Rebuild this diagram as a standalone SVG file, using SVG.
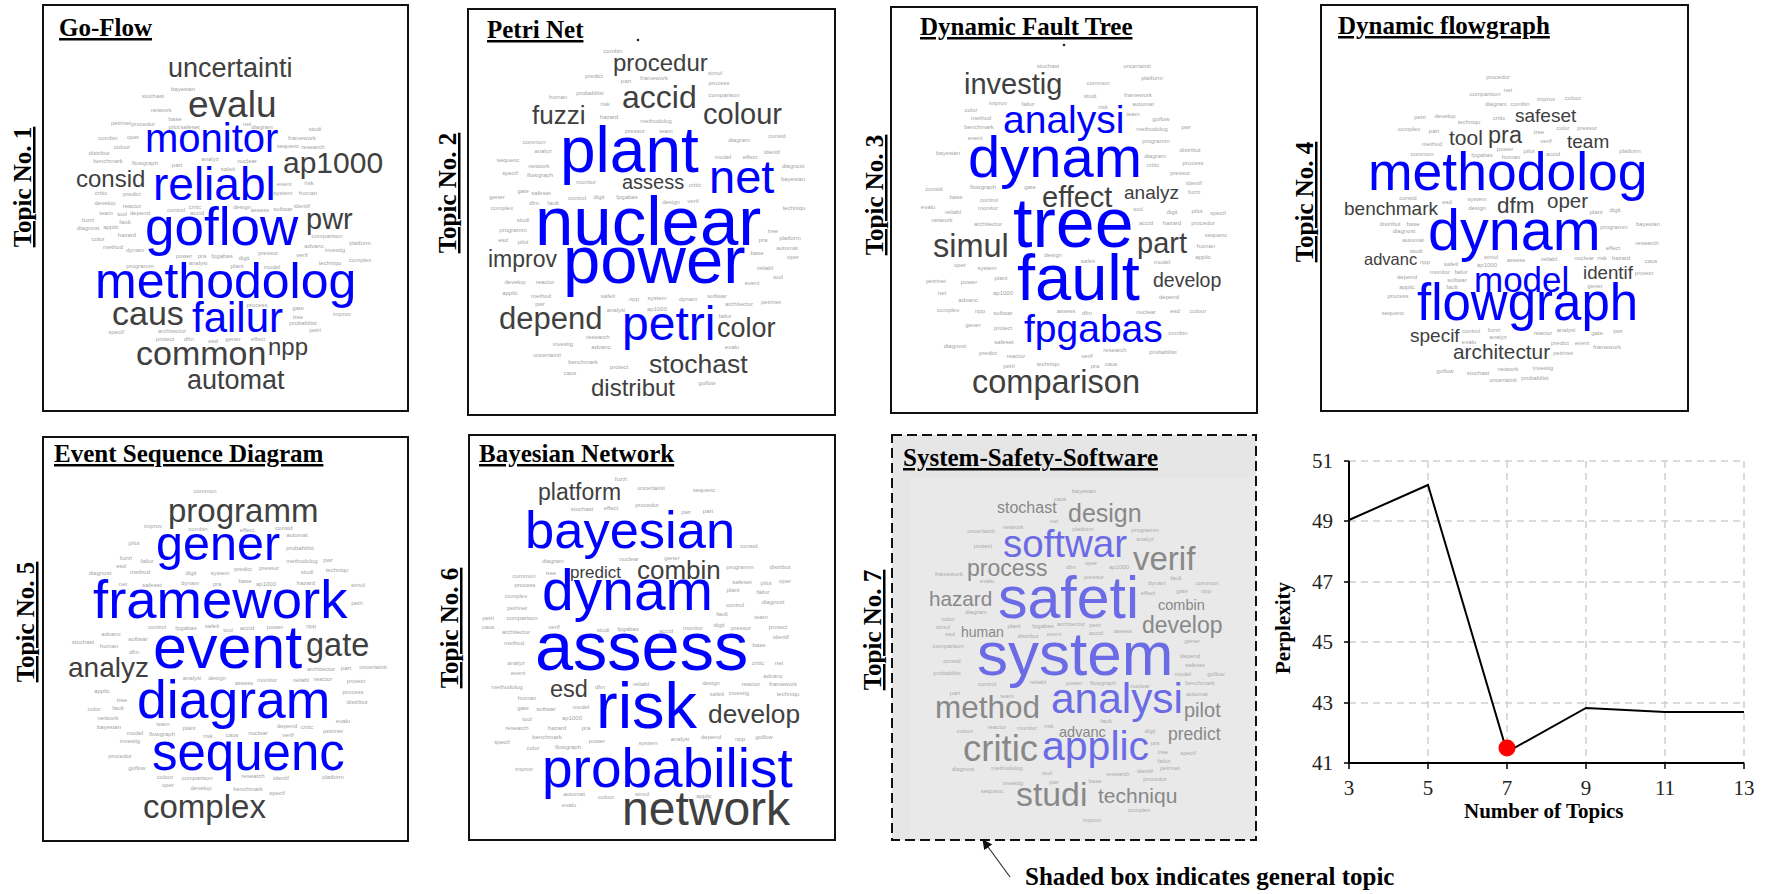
<svg xmlns="http://www.w3.org/2000/svg" width="1766" height="894" viewBox="0 0 1766 894">
<style>
.frame{fill:#fff;stroke:#111;stroke-width:2}
.ttl{font-family:"Liberation Serif","Times New Roman",serif;font-weight:bold;font-size:25px;fill:#000;text-decoration:underline}
.tl{font-family:"Liberation Serif","Times New Roman",serif;font-weight:bold;font-size:25px;fill:#000;text-decoration:underline;text-anchor:middle}
.w{font-family:"Liberation Sans",Arial,sans-serif}
.b{fill:#0000ff}
.g{fill:#404040}
.s{font-family:"Liberation Sans",Arial,sans-serif;font-size:6px;fill:#a3a3a3;text-anchor:middle}
.b7{fill:#6b6be6}
.g7{fill:#888}
.s7{font-family:"Liberation Sans",Arial,sans-serif;font-size:6px;fill:#ababab;text-anchor:middle}
.grid{stroke:#d0d0d0;stroke-width:1.5;stroke-dasharray:7 5;fill:none}
.ax{stroke:#000;stroke-width:2;fill:none}
.tick{font-family:"Liberation Serif","Times New Roman",serif;font-size:21px;fill:#222}
.axl{font-family:"Liberation Serif","Times New Roman",serif;font-weight:bold;font-size:21px;fill:#000}
</style>
<defs>
<marker id="ah" markerWidth="10" markerHeight="10" refX="9" refY="5" orient="auto" markerUnits="userSpaceOnUse">
<path d="M0,0 L10,5 L0,10 Z" fill="#111"/>
</marker>
</defs>
<rect width="1766" height="894" fill="#fff"/>

<!-- Topic 1 -->
<g id="topic1">
<rect class="frame" x="43" y="5" width="365" height="406"/>
<text class="ttl" x="59" y="36">Go-Flow</text>
<text class="tl" transform="translate(31,187) rotate(-90)">Topic No. 1</text>
<g class="w">
<text class="g" x="168" y="77" font-size="27">uncertainti</text>
<text class="g" x="188" y="117" font-size="37">evalu</text>
<text class="b" x="145" y="152" font-size="40">monitor</text>
<text class="g" x="283" y="173" font-size="30">ap1000</text>
<text class="g" x="76" y="187" font-size="24">consid</text>
<text class="b" x="153" y="200" font-size="46">reliabl</text>
<text class="g" x="306" y="229" font-size="29">pwr</text>
<text class="b" x="145" y="245" font-size="53">goflow</text>
<text class="b" x="95" y="298" font-size="50">methodolog</text>
<text class="g" x="112" y="325" font-size="34">caus</text>
<text class="b" x="192" y="332" font-size="42">failur</text>
<text class="g" x="136" y="365" font-size="34">common</text>
<text class="g" x="268" y="355" font-size="24">npp</text>
<text class="g" x="187" y="389" font-size="27">automat</text>
</g>
<g class="s">
<text x="183" y="91">bayesian</text><text x="153" y="98">stochast</text><text x="161" y="112">network</text><text x="175" y="121">base</text>
<text x="121" y="125">petrinet</text><text x="143" y="126">procedur</text><text x="174" y="129">pilot</text><text x="190" y="129">safeset</text>
<text x="247" y="126">net</text><text x="262" y="129">diagram</text><text x="315" y="131">studi</text><text x="108" y="140">combin</text>
<text x="133" y="139">oper</text><text x="302" y="140">framework</text><text x="288" y="148">sequenc</text><text x="313" y="149">research</text>
<text x="122" y="149">colour</text><text x="99" y="155">distribut</text><text x="108" y="163">benchmark</text><text x="145" y="165">flowgraph</text>
<text x="177" y="167">part</text><text x="210" y="161">analyz</text><text x="247" y="163">nuclear</text><text x="228" y="171">safeti</text>
<text x="284" y="186">event</text><text x="309" y="185">risk</text><text x="283" y="195">system</text><text x="308" y="195">human</text>
<text x="101" y="195">critic</text><text x="132" y="196">predict</text><text x="105" y="205">develop</text><text x="132" y="208">reactor</text>
<text x="140" y="215">depend</text><text x="176" y="212">control</text><text x="195" y="209">critic</text><text x="197" y="215">accid</text>
<text x="242" y="209">design</text><text x="260" y="212">assess</text><text x="283" y="211">softwar</text><text x="302" y="208">identif</text>
<text x="106" y="215">team</text><text x="122" y="216">tool</text><text x="88" y="222">fuzzi</text><text x="88" y="230">diagnost</text>
<text x="111" y="229">applic</text><text x="125" y="224">fault</text><text x="127" y="237">hazard</text><text x="98" y="241">color</text>
<text x="113" y="249">method</text><text x="135" y="252">dynam</text><text x="327" y="238">comparison</text><text x="360" y="245">platform</text>
<text x="314" y="248">advanc</text><text x="335" y="252">investig</text><text x="268" y="255">pressur</text><text x="302" y="257">verif</text>
<text x="330" y="265">techniqu</text><text x="360" y="262">complex</text><text x="140" y="268">programm</text><text x="184" y="258">power</text>
<text x="202" y="258">pra</text><text x="222" y="258">fpgabas</text><text x="244" y="260">digit</text><text x="198" y="265">analysi</text>
<text x="237" y="268">plant</text><text x="272" y="269">model</text><text x="257" y="307">process</text><text x="298" y="310">gate</text>
<text x="342" y="316">improv</text><text x="298" y="319">tree</text><text x="303" y="325">probabilist</text><text x="315" y="332">petri</text>
<text x="116" y="334">specif</text><text x="172" y="333">architectur</text><text x="165" y="341">protect</text><text x="189" y="341">dfm</text>
<text x="213" y="343">esd</text><text x="233" y="341">gener</text><text x="258" y="341">effect</text>
</g>
</g>

<!-- Topic 2 -->
<g id="topic2">
<rect class="frame" x="468" y="9" width="367" height="406"/>
<text class="ttl" x="487" y="38">Petri Net</text>
<circle cx="638" cy="40" r="1.3" fill="#222"/>
<text class="tl" transform="translate(456,193) rotate(-90)">Topic No. 2</text>
<g class="w">
<text class="g" x="613" y="71" font-size="24">procedur</text>
<text class="g" x="622" y="108" font-size="32">accid</text>
<text class="g" x="532" y="124" font-size="26">fuzzi</text>
<text class="g" x="703" y="124" font-size="29">colour</text>
<text class="b" x="560" y="172" font-size="64">plant</text>
<text class="b" x="709" y="193" font-size="47">net</text>
<text class="g" x="622" y="189" font-size="20">assess</text>
<text class="b" x="535" y="245" font-size="69">nuclear</text>
<text class="g" x="488" y="267" font-size="23">improv</text>
<text class="b" x="563" y="283" font-size="67">power</text>
<text class="g" x="499" y="329" font-size="31">depend</text>
<text class="b" x="622" y="340" font-size="48">petri</text>
<text class="g" x="717" y="337" font-size="27">color</text>
<text class="g" x="649" y="373" font-size="26.5">stochast</text>
<text class="g" x="591" y="396" font-size="24">distribut</text>
</g>
<g class="s">
<text x="613" y="53">combin</text><text x="594" y="78">predict</text><text x="626" y="83">part</text><text x="654" y="80">framework</text>
<text x="715" y="75">simul</text><text x="719" y="85">process</text><text x="558" y="99">human</text><text x="590" y="95">probabilist</text>
<text x="724" y="97">comparison</text><text x="605" y="106">risk</text><text x="609" y="119">hazard</text><text x="656" y="123">methodolog</text>
<text x="635" y="133">pressur</text><text x="666" y="133">team</text><text x="534" y="144">common</text><text x="543" y="153">analyz</text>
<text x="777" y="138">consid</text><text x="739" y="142">diagram</text><text x="508" y="162">sequenc</text><text x="539" y="168">network</text>
<text x="723" y="159">model</text><text x="750" y="159">effect</text><text x="772" y="154">identif</text><text x="793" y="168">diagnost</text>
<text x="510" y="175">specif</text><text x="540" y="177">flowgraph</text><text x="586" y="184">monitor</text><text x="695" y="187">critic</text>
<text x="793" y="181">bayesian</text><text x="497" y="199">gener</text><text x="523" y="193">gate</text><text x="541" y="195">safeset</text>
<text x="577" y="200">control</text><text x="599" y="199">digit</text><text x="627" y="199">fpgabas</text><text x="534" y="205">dfm</text>
<text x="553" y="205">fault</text><text x="671" y="204">design</text><text x="693" y="203">verif</text><text x="502" y="210">complex</text>
<text x="794" y="210">techniqu</text><text x="523" y="222">studi</text><text x="513" y="232">programm</text><text x="773" y="233">tree</text>
<text x="790" y="240">platform</text><text x="503" y="242">esd</text><text x="523" y="244">pilot</text><text x="763" y="242">pra</text>
<text x="787" y="250">automat</text><text x="757" y="255">base</text><text x="793" y="259">oper</text><text x="765" y="270">reliabl</text>
<text x="778" y="279">tool</text><text x="752" y="285">event</text><text x="515" y="284">develop</text><text x="545" y="284">reactor</text>
<text x="510" y="295">applic</text><text x="541" y="298">method</text><text x="608" y="298">safeti</text><text x="634" y="301">npp</text>
<text x="657" y="300">system</text><text x="688" y="301">dynam</text><text x="717" y="298">softwar</text><text x="739" y="306">architectur</text>
<text x="771" y="304">petrinet</text><text x="540" y="306">pwr</text><text x="616" y="312">analysi</text><text x="657" y="311">ap1000</text>
<text x="725" y="318">failur</text><text x="598" y="339">research</text><text x="563" y="346">investig</text><text x="601" y="349">advanc</text>
<text x="732" y="349">evalu</text><text x="547" y="357">uncertainti</text><text x="583" y="364">benchmark</text><text x="619" y="369">protect</text>
<text x="570" y="375">caus</text><text x="707" y="385">goflow</text>
</g>
</g>

<!-- Topic 3 -->
<g id="topic3">
<rect class="frame" x="891" y="7" width="366" height="406"/>
<text class="ttl" x="920" y="35">Dynamic Fault Tree</text>
<circle cx="1064" cy="45" r="1.3" fill="#222"/>
<text class="tl" transform="translate(883,195) rotate(-90)">Topic No. 3</text>
<g class="w">
<text class="g" x="964" y="94" font-size="29">investig</text>
<text class="b" x="1003" y="133" font-size="39">analysi</text>
<text class="b" x="968" y="177" font-size="58">dynam</text>
<text class="g" x="1042" y="207" font-size="29">effect</text>
<text class="g" x="1124" y="199" font-size="19">analyz</text>
<text class="b" x="1013" y="247" font-size="70">tree</text>
<text class="g" x="933" y="257" font-size="32.5">simul</text>
<text class="g" x="1137" y="253" font-size="29">part</text>
<text class="b" x="1017" y="300" font-size="65">fault</text>
<text class="g" x="1153" y="287" font-size="19.5">develop</text>
<text class="b" x="1024" y="342" font-size="39">fpgabas</text>
<text class="g" x="972" y="393" font-size="32.5">comparison</text>
</g>
<g class="s">
<text x="1048" y="68">stochast</text><text x="1137" y="68">uncertainti</text><text x="1098" y="85">common</text><text x="1152" y="80">platform</text>
<text x="1090" y="98">studi</text><text x="1138" y="97">framework</text><text x="998" y="105">improv</text><text x="1028" y="106">failur</text>
<text x="1103" y="109">risk</text><text x="1143" y="106">automat</text><text x="971" y="112">color</text><text x="1133" y="116">team</text>
<text x="981" y="120">method</text><text x="1161" y="121">goflow</text><text x="1186" y="129">pwr</text><text x="979" y="129">benchmark</text>
<text x="1152" y="131">methodolog</text><text x="975" y="140">event</text><text x="1156" y="143">programm</text><text x="948" y="155">bayesian</text>
<text x="1190" y="152">distribut</text><text x="1155" y="158">diagram</text><text x="1153" y="167">critic</text><text x="1193" y="165">process</text>
<text x="1180" y="175">pressur</text><text x="1194" y="185">identif</text><text x="934" y="191">consid</text><text x="983" y="189">flowgraph</text>
<text x="1030" y="189">gate</text><text x="1194" y="194">fuzzi</text><text x="956" y="199">base</text><text x="989" y="202">control</text>
<text x="928" y="209">evalu</text><text x="953" y="214">reliabl</text><text x="988" y="210">monitor</text><text x="1138" y="211">tool</text>
<text x="1172" y="214">digit</text><text x="1197" y="213">pilot</text><text x="1218" y="215">specif</text><text x="942" y="222">network</text>
<text x="988" y="226">architectur</text><text x="1146" y="225">accid</text><text x="1172" y="225">hazard</text><text x="1203" y="225">procedur</text>
<text x="1216" y="237">sequenc</text><text x="1206" y="248">human</text><text x="1203" y="259">applic</text><text x="1053" y="257">design</text>
<text x="960" y="267">oper</text><text x="987" y="270">system</text><text x="1088" y="263">safeti</text><text x="1162" y="264">model</text>
<text x="936" y="283">petrinet</text><text x="969" y="284">power</text><text x="1001" y="280">plant</text><text x="942" y="295">net</text>
<text x="1003" y="295">ap1000</text><text x="1169" y="299">depend</text><text x="968" y="302">advanc</text><text x="948" y="312">complex</text>
<text x="980" y="313">npp</text><text x="1003" y="315">softwar</text><text x="1066" y="313">assess</text><text x="1087" y="315">dfm</text>
<text x="1146" y="314">nuclear</text><text x="1175" y="313">esd</text><text x="1198" y="313">colour</text><text x="973" y="327">gener</text>
<text x="1003" y="330">protect</text><text x="1178" y="335">combin</text><text x="955" y="348">diagnost</text><text x="1004" y="344">safeset</text>
<text x="988" y="355">predict</text><text x="1016" y="358">reactor</text><text x="1087" y="358">verif</text><text x="1115" y="352">research</text>
<text x="1163" y="354">probabilist</text><text x="1009" y="368">petri</text><text x="1048" y="366">techniqu</text><text x="1095" y="368">pra</text>
<text x="1111" y="366">caus</text>
</g>
</g>

<!-- Topic 4 -->
<g id="topic4">
<rect class="frame" x="1321" y="5" width="367" height="406"/>
<text class="ttl" x="1338" y="34">Dynamic flowgraph</text>
<text class="tl" transform="translate(1313,202) rotate(-90)">Topic No. 4</text>
<g class="w">
<text class="g" x="1515" y="122" font-size="19">safeset</text>
<text class="g" x="1449" y="145" font-size="21">tool</text>
<text class="g" x="1488" y="143" font-size="23.5">pra</text>
<text class="g" x="1567" y="148" font-size="19">team</text>
<text class="b" x="1368" y="190" font-size="53.5">methodolog</text>
<text class="g" x="1344" y="215" font-size="19">benchmark</text>
<text class="g" x="1497" y="213" font-size="22.5">dfm</text>
<text class="g" x="1547" y="208" font-size="20.5">oper</text>
<text class="b" x="1428" y="250" font-size="57.5">dynam</text>
<text class="g" x="1364" y="265" font-size="16.5">advanc</text>
<text class="b" x="1474" y="292" font-size="35">model</text>
<text class="g" x="1583" y="279" font-size="18.7">identif</text>
<text class="b" x="1417" y="320" font-size="51">flowgraph</text>
<text class="g" x="1410" y="342" font-size="19">specif</text>
<text class="g" x="1453" y="359" font-size="20.8">architectur</text>
</g>
<g class="s">
<text x="1498" y="79">procedur</text><text x="1485" y="96">comparison</text><text x="1508" y="92">net</text><text x="1546" y="101">improv</text>
<text x="1573" y="100">colour</text><text x="1496" y="106">diagram</text><text x="1520" y="106">combin</text><text x="1420" y="119">petri</text>
<text x="1445" y="118">develop</text><text x="1469" y="124">techniqu</text><text x="1499" y="120">critic</text><text x="1409" y="131">complex</text>
<text x="1434" y="133">part</text><text x="1539" y="134">tree</text><text x="1563" y="130">color</text><text x="1587" y="130">pressur</text>
<text x="1432" y="146">method</text><text x="1546" y="143">verif</text><text x="1505" y="151">power</text><text x="1529" y="153">pilot</text>
<text x="1422" y="156">common</text><text x="1482" y="157">fpgabas</text><text x="1511" y="159">human</text><text x="1553" y="156">accid</text>
<text x="1630" y="153">platform</text><text x="1408" y="200">consid</text><text x="1447" y="204">esd</text><text x="1477" y="201">system</text>
<text x="1477" y="210">design</text><text x="1596" y="214">plant</text><text x="1615" y="212">digit</text><text x="1390" y="226">distribut</text>
<text x="1413" y="226">base</text><text x="1404" y="233">diagnost</text><text x="1614" y="229">programm</text><text x="1648" y="226">bayesian</text>
<text x="1413" y="242">automat</text><text x="1416" y="253">studi</text><text x="1613" y="250">effect</text><text x="1647" y="245">research</text>
<text x="1491" y="259">simul</text><text x="1516" y="262">assess</text><text x="1549" y="261">reliabl</text><text x="1584" y="260">nuclear</text>
<text x="1602" y="260">risk</text><text x="1621" y="260">hazard</text><text x="1651" y="263">caus</text><text x="1425" y="264">npp</text>
<text x="1451" y="266">safeti</text><text x="1487" y="267">ap1000</text><text x="1440" y="274">monitor</text><text x="1461" y="274">failur</text>
<text x="1644" y="275">protect</text><text x="1407" y="279">depend</text><text x="1457" y="282">softwar</text><text x="1407" y="289">applic</text>
<text x="1452" y="289">fault</text><text x="1595" y="288">gener</text><text x="1398" y="298">process</text><text x="1393" y="315">sequenc</text>
<text x="1471" y="333">control</text><text x="1494" y="332">fuzzi</text><text x="1543" y="335">reactor</text><text x="1566" y="332">analysi</text>
<text x="1597" y="335">gate</text><text x="1618" y="333">pwr</text><text x="1469" y="344">evalu</text><text x="1498" y="339">analyz</text>
<text x="1560" y="345">predict</text><text x="1582" y="345">event</text><text x="1607" y="349">framework</text><text x="1563" y="355">petrinet</text>
<text x="1445" y="373">goflow</text><text x="1478" y="375">stochast</text><text x="1508" y="371">network</text><text x="1543" y="370">investig</text>
<text x="1503" y="382">uncertainti</text><text x="1535" y="380">probabilist</text>
</g>
</g>

<!-- Topic 5 -->
<g id="topic5">
<rect class="frame" x="43" y="437" width="365" height="404"/>
<text class="ttl" x="54" y="462">Event Sequence Diagram</text>
<text class="tl" transform="translate(34,622) rotate(-90)">Topic No. 5</text>
<g class="w">
<text class="g" x="168" y="522" font-size="33">programm</text>
<text class="b" x="156" y="560" font-size="48.5">gener</text>
<text class="b" x="93" y="618" font-size="54.5">framework</text>
<text class="b" x="153" y="668" font-size="61">event</text>
<text class="g" x="306" y="656" font-size="32.5">gate</text>
<text class="g" x="68" y="677" font-size="28">analyz</text>
<text class="b" x="137" y="718" font-size="53.5">diagram</text>
<text class="b" x="152" y="770" font-size="51">sequenc</text>
<text class="g" x="143" y="818" font-size="33">complex</text>
</g>
<g class="s">
<text x="205" y="493">common</text><text x="153" y="528">improv</text><text x="198" y="531">combin</text><text x="247" y="532">effect</text>
<text x="284" y="530">consid</text><text x="297" y="537">automat</text><text x="134" y="545">pilot</text><text x="300" y="550">probabilist</text>
<text x="126" y="560">fuzzi</text><text x="147" y="563">failur</text><text x="302" y="563">methodolog</text><text x="328" y="562">pwr</text>
<text x="121" y="568">esd</text><text x="140" y="574">method</text><text x="191" y="575">digit</text><text x="220" y="575">system</text>
<text x="243" y="571">predict</text><text x="269" y="570">pressur</text><text x="307" y="574">studi</text><text x="337" y="572">techniqu</text>
<text x="100" y="575">diagnost</text><text x="123" y="586">net</text><text x="152" y="587">safeset</text><text x="190" y="585">dynam</text>
<text x="217" y="586">pra</text><text x="245" y="583">base</text><text x="266" y="586">ap1000</text><text x="306" y="585">hazard</text>
<text x="358" y="587">simul</text><text x="357" y="605">petri</text><text x="157" y="629">control</text><text x="186" y="630">fpgabas</text>
<text x="212" y="628">safeti</text><text x="228" y="632">tool</text><text x="247" y="630">accid</text><text x="275" y="629">power</text>
<text x="311" y="628">npp</text><text x="111" y="636">advanc</text><text x="138" y="641">softwar</text><text x="83" y="644">stochast</text>
<text x="109" y="648">human</text><text x="134" y="654">dfm</text><text x="321" y="671">architectur</text><text x="346" y="670">part</text>
<text x="373" y="669">uncertainti</text><text x="192" y="680">analysi</text><text x="217" y="680">design</text><text x="244" y="685">assess</text>
<text x="267" y="682">monitor</text><text x="301" y="682">reliabl</text><text x="323" y="681">reactor</text><text x="356" y="683">protect</text>
<text x="102" y="693">applic</text><text x="353" y="694">process</text><text x="122" y="702">tree</text><text x="357" y="704">distribut</text>
<text x="94" y="711">color</text><text x="118" y="710">fault</text><text x="108" y="720">network</text><text x="343" y="723">evalu</text>
<text x="163" y="726">team</text><text x="109" y="729">bayesian</text><text x="287" y="728">depend</text><text x="307" y="729">critic</text>
<text x="333" y="733">petrinet</text><text x="135" y="735">model</text><text x="162" y="736">flowgraph</text><text x="189" y="730">plant</text>
<text x="208" y="738">risk</text><text x="232" y="737">caus</text><text x="258" y="735">nuclear</text><text x="288" y="737">verif</text>
<text x="130" y="743">investig</text><text x="120" y="758">procedur</text><text x="137" y="770">goflow</text><text x="165" y="779">colour</text>
<text x="197" y="780">comparison</text><text x="253" y="778">research</text><text x="281" y="780">identif</text><text x="333" y="779">platform</text>
<text x="168" y="787">oper</text><text x="201" y="790">develop</text><text x="248" y="791">benchmark</text><text x="277" y="795">specif</text>
</g>
</g>

<!-- Topic 6 -->
<g id="topic6">
<rect class="frame" x="469" y="435" width="366" height="405"/>
<text class="ttl" x="479" y="462">Bayesian Network</text>
<text class="tl" transform="translate(458,628) rotate(-90)">Topic No. 6</text>
<g class="w">
<text class="g" x="538" y="500" font-size="23">platform</text>
<text class="b" x="525" y="548" font-size="52.5">bayesian</text>
<text class="g" x="570" y="578" font-size="17">predict</text>
<text class="g" x="637" y="579" font-size="26">combin</text>
<text class="b" x="542" y="610" font-size="57">dynam</text>
<text class="b" x="535" y="670" font-size="68.5">assess</text>
<text class="g" x="550" y="697" font-size="23.5">esd</text>
<text class="b" x="596" y="728" font-size="65">risk</text>
<text class="g" x="708" y="723" font-size="26.3">develop</text>
<text class="b" x="542" y="787" font-size="55">probabilist</text>
<text class="g" x="622" y="825" font-size="48">network</text>
</g>
<g class="s">
<text x="621" y="481">fuzzi</text><text x="651" y="490">uncertainti</text><text x="704" y="492">sequenc</text><text x="582" y="511">stochast</text>
<text x="611" y="510">effect</text><text x="647" y="507">procedur</text><text x="686" y="514">pwr</text><text x="708" y="513">part</text>
<text x="749" y="548">consid</text><text x="553" y="563">diagram</text><text x="629" y="561">nuclear</text><text x="672" y="560">gener</text>
<text x="740" y="569">programm</text><text x="780" y="569">distribut</text><text x="524" y="578">common</text><text x="551" y="575">tree</text>
<text x="525" y="587">process</text><text x="742" y="584">safeset</text><text x="766" y="585">pilot</text><text x="785" y="583">oper</text>
<text x="516" y="598">complex</text><text x="733" y="592">plant</text><text x="763" y="594">failur</text><text x="517" y="610">petrinet</text>
<text x="735" y="607">control</text><text x="773" y="604">diagnost</text><text x="488" y="620">petri</text><text x="522" y="620">comparison</text>
<text x="722" y="616">fault</text><text x="761" y="619">team</text><text x="488" y="629">caus</text><text x="516" y="634">architectur</text>
<text x="554" y="629">verif</text><text x="603" y="632">studi</text><text x="628" y="631">fpgabas</text><text x="666" y="633">accid</text>
<text x="693" y="630">monitor</text><text x="719" y="627">digit</text><text x="741" y="630">pressur</text><text x="778" y="629">protect</text>
<text x="781" y="639">identif</text><text x="514" y="645">method</text><text x="759" y="647">base</text><text x="516" y="665">analyz</text>
<text x="758" y="665">critic</text><text x="779" y="665">net</text><text x="518" y="675">event</text><text x="773" y="678">advanc</text>
<text x="507" y="689">methodolog</text><text x="600" y="689">dfm</text><text x="641" y="686">reliabl</text><text x="711" y="685">design</text>
<text x="751" y="686">reactor</text><text x="783" y="686">framework</text><text x="717" y="696">safeti</text><text x="739" y="695">investig</text>
<text x="788" y="696">techniqu</text><text x="527" y="700">human</text><text x="581" y="709">model</text><text x="523" y="710">gate</text>
<text x="546" y="711">softwar</text><text x="527" y="721">tool</text><text x="572" y="720">ap1000</text><text x="517" y="730">research</text>
<text x="557" y="730">hazard</text><text x="586" y="730">pra</text><text x="547" y="739">benchmark</text><text x="597" y="743">power</text>
<text x="680" y="741">analysi</text><text x="711" y="739">depend</text><text x="740" y="741">npp</text><text x="764" y="739">goflow</text>
<text x="502" y="744">specif</text><text x="533" y="750">color</text><text x="568" y="749">flowgraph</text><text x="648" y="745">system</text>
<text x="524" y="771">improv</text><text x="574" y="796">automat</text><text x="606" y="799">colour</text><text x="642" y="796">simul</text>
<text x="704" y="798">applic</text><text x="569" y="807">evalu</text>
</g>
</g>

<!-- Topic 7 (shaded, general topic) -->
<g id="topic7">
<rect x="892" y="435" width="364" height="405" fill="#e6e6e6" stroke="#111" stroke-width="2" stroke-dasharray="10 5"/>
<rect x="910" y="478" width="345" height="361" fill="#e9e9e9"/>
<text class="ttl" x="903" y="466">System-Safety-Software</text>
<text class="tl" transform="translate(881,630) rotate(-90)">Topic No. 7</text>
<g class="w">
<text class="g7" x="997" y="513" font-size="16">stochast</text>
<text class="g7" x="1068" y="522" font-size="25">design</text>
<text class="b7" x="1003" y="557" font-size="38.5">softwar</text>
<text class="g7" x="1133" y="570" font-size="33">verif</text>
<text class="g7" x="967" y="576" font-size="23">process</text>
<text class="g7" x="929" y="606" font-size="20.7">hazard</text>
<text class="b7" x="998" y="618" font-size="59">safeti</text>
<text class="g7" x="1158" y="610" font-size="14.5">combin</text>
<text class="g7" x="961" y="637" font-size="14">human</text>
<text class="g7" x="1142" y="633" font-size="23">develop</text>
<text class="b7" x="977" y="675" font-size="62">system</text>
<text class="g7" x="935" y="718" font-size="31.5">method</text>
<text class="b7" x="1051" y="713" font-size="42.4">analysi</text>
<text class="g7" x="1184" y="717" font-size="20">pilot</text>
<text class="g7" x="1059" y="737" font-size="14.5">advanc</text>
<text class="g7" x="1168" y="740" font-size="17.5">predict</text>
<text class="g7" x="963" y="761" font-size="36.5">critic</text>
<text class="b7" x="1042" y="760" font-size="41">applic</text>
<text class="g7" x="1016" y="806" font-size="33.8">studi</text>
<text class="g7" x="1098" y="803" font-size="21">techniqu</text>
</g>
<g class="s7">
<text x="1084" y="493">bayesian</text><text x="1060" y="501">caus</text><text x="1054" y="523">net</text><text x="981" y="533">uncertainti</text>
<text x="1013" y="529">network</text><text x="1083" y="531">platform</text><text x="1145" y="532">programm</text><text x="1145" y="541">analyz</text>
<text x="983" y="548">protect</text><text x="949" y="576">framework</text><text x="987" y="583">evalu</text><text x="1071" y="569">dfm</text>
<text x="1091" y="565">oper</text><text x="1119" y="569">ap1000</text><text x="1094" y="579">pressur</text><text x="1157" y="585">dynam</text>
<text x="1176" y="580">fault</text><text x="1207" y="585">common</text><text x="1148" y="595">effect</text><text x="1182" y="593">gate</text>
<text x="1206" y="593">npp</text><text x="976" y="614">diagram</text><text x="948" y="621">color</text><text x="943" y="629">simul</text>
<text x="1014" y="628">plant</text><text x="1043" y="628">fpgabas</text><text x="1071" y="626">architectur</text><text x="1095" y="627">petri</text>
<text x="950" y="636">esd</text><text x="1028" y="638">distribut</text><text x="1054" y="636">event</text><text x="1096" y="635">accid</text>
<text x="1123" y="633">assess</text><text x="1192" y="643">gener</text><text x="948" y="648">comparison</text><text x="952" y="663">consid</text>
<text x="1190" y="658">depend</text><text x="1195" y="667">safeset</text><text x="947" y="675">probabilist</text><text x="1183" y="676">model</text>
<text x="1216" y="676">goflow</text><text x="987" y="686">control</text><text x="1038" y="684">reliabl</text><text x="1074" y="685">power</text>
<text x="1103" y="685">flowgraph</text><text x="1140" y="688">nuclear</text><text x="1200" y="685">benchmark</text><text x="955" y="695">part</text>
<text x="1007" y="698">team</text><text x="1197" y="696">automat</text><text x="1106" y="723">fault</text><text x="965" y="733">colour</text>
<text x="997" y="729">reactor</text><text x="1027" y="730">monitor</text><text x="1049" y="728">risk</text><text x="1150" y="733">digit</text>
<text x="1155" y="745">pra</text><text x="1163" y="754">tree</text><text x="1188" y="755">specif</text><text x="1164" y="763">failur</text>
<text x="963" y="771">diagnost</text><text x="1007" y="770">methodolog</text><text x="1047" y="775">tool</text><text x="1145" y="773">identif</text>
<text x="1170" y="770">petrinet</text><text x="1118" y="776">research</text><text x="1013" y="785">investig</text><text x="1054" y="784">pwr</text>
<text x="1095" y="783">base</text><text x="1155" y="781">procedur</text><text x="992" y="793">sequenc</text><text x="1139" y="812">complex</text>
<text x="1092" y="822">improv</text>
</g>
</g>

<!-- Perplexity chart -->
<g id="chart">
<g class="grid">
<path d="M1349,461H1744M1349,521H1744M1349,582H1744M1349,642H1744M1349,703H1744"/>
<path d="M1428,461V763M1507,461V763M1586,461V763M1665,461V763M1744,461V763"/>
</g>
<path class="ax" d="M1349,461V763H1744"/>
<path stroke="#000" stroke-width="1.5" d="M1344,461H1349M1344,521H1349M1344,582H1349M1344,642H1349M1344,703H1349M1344,763H1349M1349,763V769M1428,763V769M1507,763V769M1586,763V769M1665,763V769M1744,763V769"/>
<polyline points="1349,520 1428,485 1507,752 1586,708 1665,712 1744,712" fill="none" stroke="#000" stroke-width="2"/>
<circle cx="1507" cy="748" r="8.5" fill="#ff0000"/>
<g class="tick" text-anchor="end">
<text x="1333" y="468">51</text><text x="1333" y="528">49</text><text x="1333" y="589">47</text>
<text x="1333" y="649">45</text><text x="1333" y="710">43</text><text x="1333" y="770">41</text>
</g>
<g class="tick" text-anchor="middle">
<text x="1349" y="795">3</text><text x="1428" y="795">5</text><text x="1507" y="795">7</text>
<text x="1586" y="795">9</text><text x="1665" y="795">11</text><text x="1744" y="795">13</text>
</g>
<text class="axl" text-anchor="middle" transform="translate(1290,628) rotate(-90)">Perplexity</text>
<text class="axl" x="1464" y="818">Number of Topics</text>
</g>

<!-- Annotation -->
<g id="connectors">
<line x1="1010" y1="877" x2="983" y2="840" stroke="#333" stroke-width="1.2" marker-end="url(#ah)"/>
</g>
<g id="note">
<text x="1025" y="885" font-family="Liberation Serif, Times New Roman, serif" font-weight="bold" font-size="25" fill="#000">Shaded box indicates general topic</text>
</g>
</svg>
